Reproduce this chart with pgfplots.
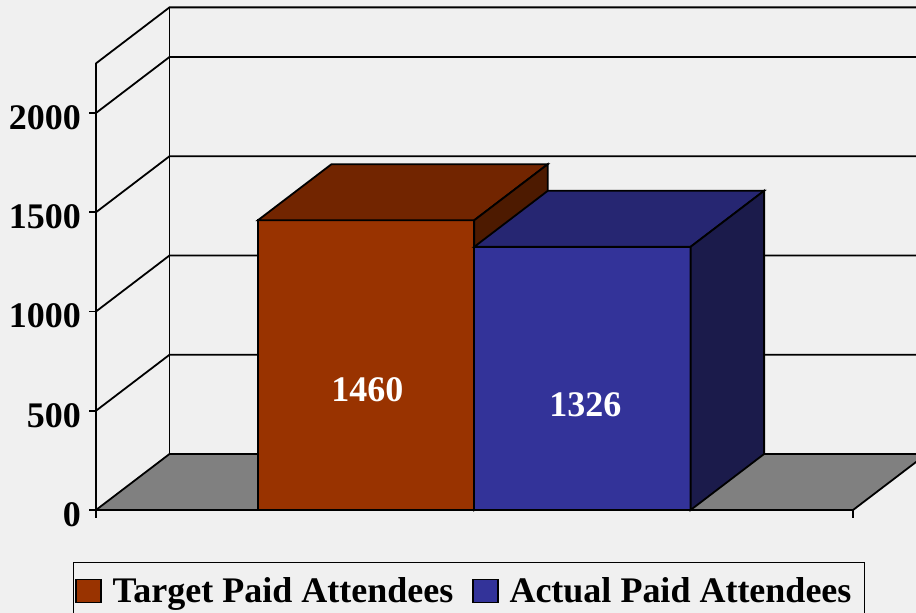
\documentclass[border=0pt]{standalone}
\usepackage{pgfplots}
\pgfplotsset{compat=1.18}
\usepackage{fontspec}
\setmainfont{Liberation Serif}
\definecolor{tgtF}{HTML}{993300}
\definecolor{tgtT}{HTML}{722500}
\definecolor{tgtS}{HTML}{4D1A00}
\definecolor{actF}{HTML}{333399}
\definecolor{actT}{HTML}{262672}
\definecolor{actS}{HTML}{1B1B4B}
\definecolor{bgc}{HTML}{F0F0F0}
\definecolor{floorc}{HTML}{808080}
\begin{document}
\begin{tikzpicture}
\fill[bgc] (0pt,0pt) rectangle (916pt,613pt);
\clip (0pt,0pt) rectangle (916pt,613pt);
\begin{axis}[at={(96pt,103pt)}, anchor=origin,
  x={(216.3pt,0pt)}, y={(73.5pt,56pt)}, z={(0pt,0.1985pt)},
  xmin=0, xmax=3.5, ymin=0, ymax=1, zmin=0, zmax=2250,
  hide axis, clip=false, no marks,
  every axis plot/.append style={line width=1.8pt, line join=miter}]
% walls and gridlines
\addplot3[black] coordinates {(0,0,2250) (0,1,2250) (3.5,1,2250)};
\addplot3[black] coordinates {(0,0,2000) (0,1,2000) (3.5,1,2000)};
\addplot3[black] coordinates {(0,0,1500) (0,1,1500) (3.5,1,1500)};
\addplot3[black] coordinates {(0,0,1000) (0,1,1000) (3.5,1,1000)};
\addplot3[black] coordinates {(0,0,500) (0,1,500) (3.5,1,500)};
\addplot3[black] coordinates {(0,0,0) (0,0,2250)};
\addplot3[black] coordinates {(0,1,0) (0,1,2250)};
% floor
\addplot3[fill=floorc, draw=black] coordinates {(0,0,0) (3.5,0,0) (3.5,1,0) (0,1,0)} -- cycle;
% ticks
\foreach \v in {0,500,1000,1500,2000} {
  \edef\temp{\noexpand\draw[line width=1.8pt] (axis cs:0,0,\v) -- ++(-7pt,0pt);
  \noexpand\node[anchor=east, inner sep=0pt, font=\noexpand\fontsize{36}{40}\noexpand\selectfont\noexpand\bfseries] at (axis cs:0,0,\v) [xshift=-15pt, yshift=-4.5pt] {\v};}
  \temp
}
\draw[line width=1.8pt] (axis cs:0,0,0) -- ++(0pt,-8pt);
\draw[line width=1.8pt] (axis cs:3.5,0,0) -- ++(0pt,-8pt);
% Target bar
\addplot3[fill=tgtF, draw=black] coordinates {(0.749,0,0) (1.749,0,0) (1.749,0,1460) (0.749,0,1460)} -- cycle;
\addplot3[fill=tgtT, draw=black] coordinates {(0.749,0,1460) (1.749,0,1460) (1.749,1,1460) (0.749,1,1460)} -- cycle;
\addplot3[fill=tgtS, draw=black] coordinates {(1.749,0,0) (1.749,1,0) (1.749,1,1460) (1.749,0,1460)} -- cycle;
% Actual bar
\addplot3[fill=actF, draw=black] coordinates {(1.749,0,0) (2.749,0,0) (2.749,0,1326) (1.749,0,1326)} -- cycle;
\addplot3[fill=actT, draw=black] coordinates {(1.749,0,1326) (2.749,0,1326) (2.749,1,1326) (1.749,1,1326)} -- cycle;
\addplot3[fill=actS, draw=black] coordinates {(2.749,0,0) (2.749,1,0) (2.749,1,1326) (2.749,0,1326)} -- cycle;
% value labels
\node[white, inner sep=0pt, font=\fontsize{36}{40}\selectfont\bfseries] at (axis cs:1.255,0,607) {1460};
\node[white, inner sep=0pt, font=\fontsize{36}{40}\selectfont\bfseries] at (axis cs:2.263,0,531) {1326};
\end{axis}
\begin{axis}[at={(0pt,0pt)}, anchor=origin, scale only axis,
  width=916pt, height=613pt, xmin=0, xmax=916, ymin=0, ymax=613,
  hide axis, clip=false,
  legend columns=2,
  legend image code/.code={\draw[#1, line width=1.2pt] (9pt,-11.5pt) rectangle (34pt,11.5pt);},
  legend style={at={(0.512,0.0832)}, anchor=north, draw=black, line width=1.2pt, fill=none,
    font=\fontsize{36}{40}\selectfont\bfseries, inner xsep=2pt, inner ysep=13pt,
    nodes={inner xsep=11pt},
    /tikz/every even column/.append style={column sep=8pt}}]
\addlegendimage{fill=tgtF, draw=black}
\addlegendentry{Target Paid Attendees}
\addlegendimage{fill=actF, draw=black}
\addlegendentry{Actual Paid Attendees}
\end{axis}
\end{tikzpicture}
\end{document}
